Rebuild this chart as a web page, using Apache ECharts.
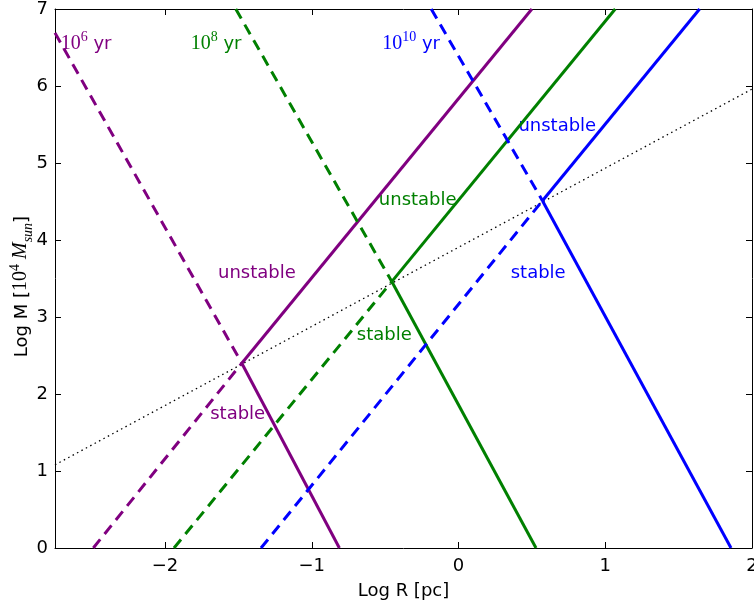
<!DOCTYPE html>
<html>
<head>
<meta charset="utf-8">
<script src="https://cdn.jsdelivr.net/npm/echarts@6/dist/echarts.min.js"></script>
<style>
html, body { margin: 0; padding: 0; background: #fff; }
#chart { width: 754px; height: 606px; }
</style>
</head>
<body>
<div id="chart"></div>
<script>
// end points of every segment as [log R, log M]
const purpleUnstable = [[-1.477, 2.40], [0.500, 7.0]];
const purpleStable = [[-1.477, 2.40], [-0.812, 0]];
const purpleDashUp = [[-2.75, 6.69], [-1.477, 2.40]];
const purpleDashDown = [[-2.489, 0], [-1.477, 2.40]];

const greenUnstable = [[-0.455, 3.46], [1.068, 7.0]];
const greenStable = [[-0.455, 3.46], [0.528, 0]];
const greenDashUp = [[-1.518, 7.0], [-0.455, 3.46]];
const greenDashDown = [[-1.939, 0], [-0.455, 3.46]];

const blueUnstable = [[0.572, 4.51], [1.643, 7.0]];
const blueStable = [[0.572, 4.51], [1.857, 0]];
const blueDashUp = [[-0.186, 7.0], [0.572, 4.51]];
const blueDashDown = [[-1.346, 0], [0.572, 4.51]];

const dottedLine = [[-2.75, 1.08], [2.0, 5.96]];

// annotations: text and centre in data units
const ageExp = ['6', '8', '10'];
const ageAt = [[-2.538, 6.57], [-1.652, 6.57], [-0.323, 6.57]];
const unstableAt = [[-1.374, 3.57], [-0.278, 4.51], [0.673, 5.47]];
const stableAt = [[-1.505, 1.73], [-0.506, 2.76], [0.543, 3.57]];

const xTicks = [-2, -1, 0, 1, 2];
const yTicks = [0, 1, 2, 3, 4, 5, 6, 7];

const colors = ['#800080', '#008000', '#0000ff'];
const font = 'DejaVu Sans';
const serif = 'Liberation Serif';

const chart = echarts.init(document.getElementById('chart'));

const seg = (data, color, type, width) => ({
    type: 'line',
    data: data,
    symbol: 'none',
    silent: true,
    animation: false,
    lineStyle: { color: color, width: width, type: type, cap: 'butt' }
});

const series = [];
const groups = [
    [purpleUnstable, purpleStable, purpleDashUp, purpleDashDown],
    [greenUnstable, greenStable, greenDashUp, greenDashDown],
    [blueUnstable, blueStable, blueDashUp, blueDashDown]
];
series.push(seg(dottedLine, '#000', [1.5, 3.5], 1.3));
groups.forEach((g, i) => {
    series.push(seg(g[2], colors[i], [11, 7], 3));
    series.push(seg(g[3], colors[i], [11, 7], 3));
    series.push(seg(g[0], colors[i], 'solid', 3));
    series.push(seg(g[1], colors[i], 'solid', 3));
});

// text labels
const textItems = [];
colors.forEach((c, i) => {
    textItems.push({
        value: ageAt[i],
        label: {
            color: c,
            formatter: '{n|10}{e|' + ageExp[i] + '}{u| yr}',
            rich: {
                n: { fontFamily: serif, fontSize: 20, color: c, verticalAlign: 'bottom' },
                e: { fontFamily: serif, fontSize: 14, color: c, verticalAlign: 'bottom', padding: [0, 0, 9, 0] },
                u: { fontFamily: font, fontSize: 18, color: c, verticalAlign: 'bottom' }
            }
        }
    });
    textItems.push({ value: unstableAt[i], label: { color: c, formatter: 'unstable' } });
    textItems.push({ value: stableAt[i], label: { color: c, formatter: 'stable' } });
});
series.push({
    type: 'scatter',
    data: textItems,
    symbolSize: 0,
    silent: true,
    animation: false,
    itemStyle: { opacity: 1 },
    label: {
        show: true, position: 'inside', fontFamily: font, fontSize: 18,
        opacity: 1, textBorderWidth: 0
    }
});

const minus = v => String(v).replace('-', '\u2212');

const option = {
    animation: false,
    grid: { left: 55, right: 2, top: 9, bottom: 58, show: false, outerBoundsMode: 'none', containLabel: false },
    xAxis: [{
        type: 'value', min: -2.75, max: 2,
        name: 'Log R [pc]', nameLocation: 'middle', nameGap: 34, nameMoveOverlap: false,
        nameTextStyle: { fontFamily: font, fontSize: 18, color: '#000' },
        axisLine: { show: true, onZero: false, lineStyle: { color: '#000', width: 1 } },
        axisTick: { show: true, inside: true, length: 6, customValues: xTicks, lineStyle: { color: '#000' } },
        axisLabel: { customValues: xTicks, formatter: minus, fontFamily: font, fontSize: 18, color: '#000', margin: 9 },
        splitLine: { show: false }
    }, {
        type: 'value', min: -2.75, max: 2, position: 'top',
        axisLine: { show: true, onZero: false, lineStyle: { color: '#000', width: 1 } },
        axisTick: { show: true, inside: true, length: 6, customValues: xTicks, lineStyle: { color: '#000' } },
        axisLabel: { show: false },
        splitLine: { show: false }
    }],
    yAxis: [{
        type: 'value', min: 0, max: 7, interval: 1,
        name: '{t|Log M [}{n|10}{e|4}{n| }{i|M}{b|sun}{r|]}',
        nameLocation: 'middle', nameGap: 20, nameMoveOverlap: false,
        nameTextStyle: {
            color: '#000',
            rich: {
                t: { fontFamily: font, fontSize: 18, color: '#000', verticalAlign: 'bottom', padding: [0, 0, 4, 0] },
                r: { fontFamily: font, fontSize: 18, color: '#000', verticalAlign: 'bottom', padding: [0, 16, 4, 0] },
                n: { fontFamily: serif, fontSize: 20, color: '#000', verticalAlign: 'bottom', padding: [0, 0, 4, 0] },
                e: { fontFamily: serif, fontSize: 14, color: '#000', verticalAlign: 'bottom', padding: [0, 0, 13, 0] },
                i: { fontFamily: serif, fontStyle: 'italic', fontSize: 20, color: '#000', verticalAlign: 'bottom', padding: [0, 0, 4, 0] },
                b: { fontFamily: serif, fontStyle: 'italic', fontSize: 14, color: '#000', verticalAlign: 'bottom' }
            }
        },
        axisLine: { show: true, onZero: false, lineStyle: { color: '#000', width: 1 } },
        axisTick: { show: true, inside: true, length: 6, lineStyle: { color: '#000' } },
        axisLabel: { fontFamily: font, fontSize: 18, color: '#000', margin: 7 },
        splitLine: { show: false }
    }, {
        type: 'value', min: 0, max: 7, interval: 1, position: 'right',
        axisLine: { show: true, onZero: false, lineStyle: { color: '#000', width: 1 } },
        axisTick: { show: true, inside: true, length: 6, lineStyle: { color: '#000' } },
        axisLabel: { show: false },
        splitLine: { show: false }
    }],
    series: series
};
chart.setOption(option);
</script>
</body>
</html>
